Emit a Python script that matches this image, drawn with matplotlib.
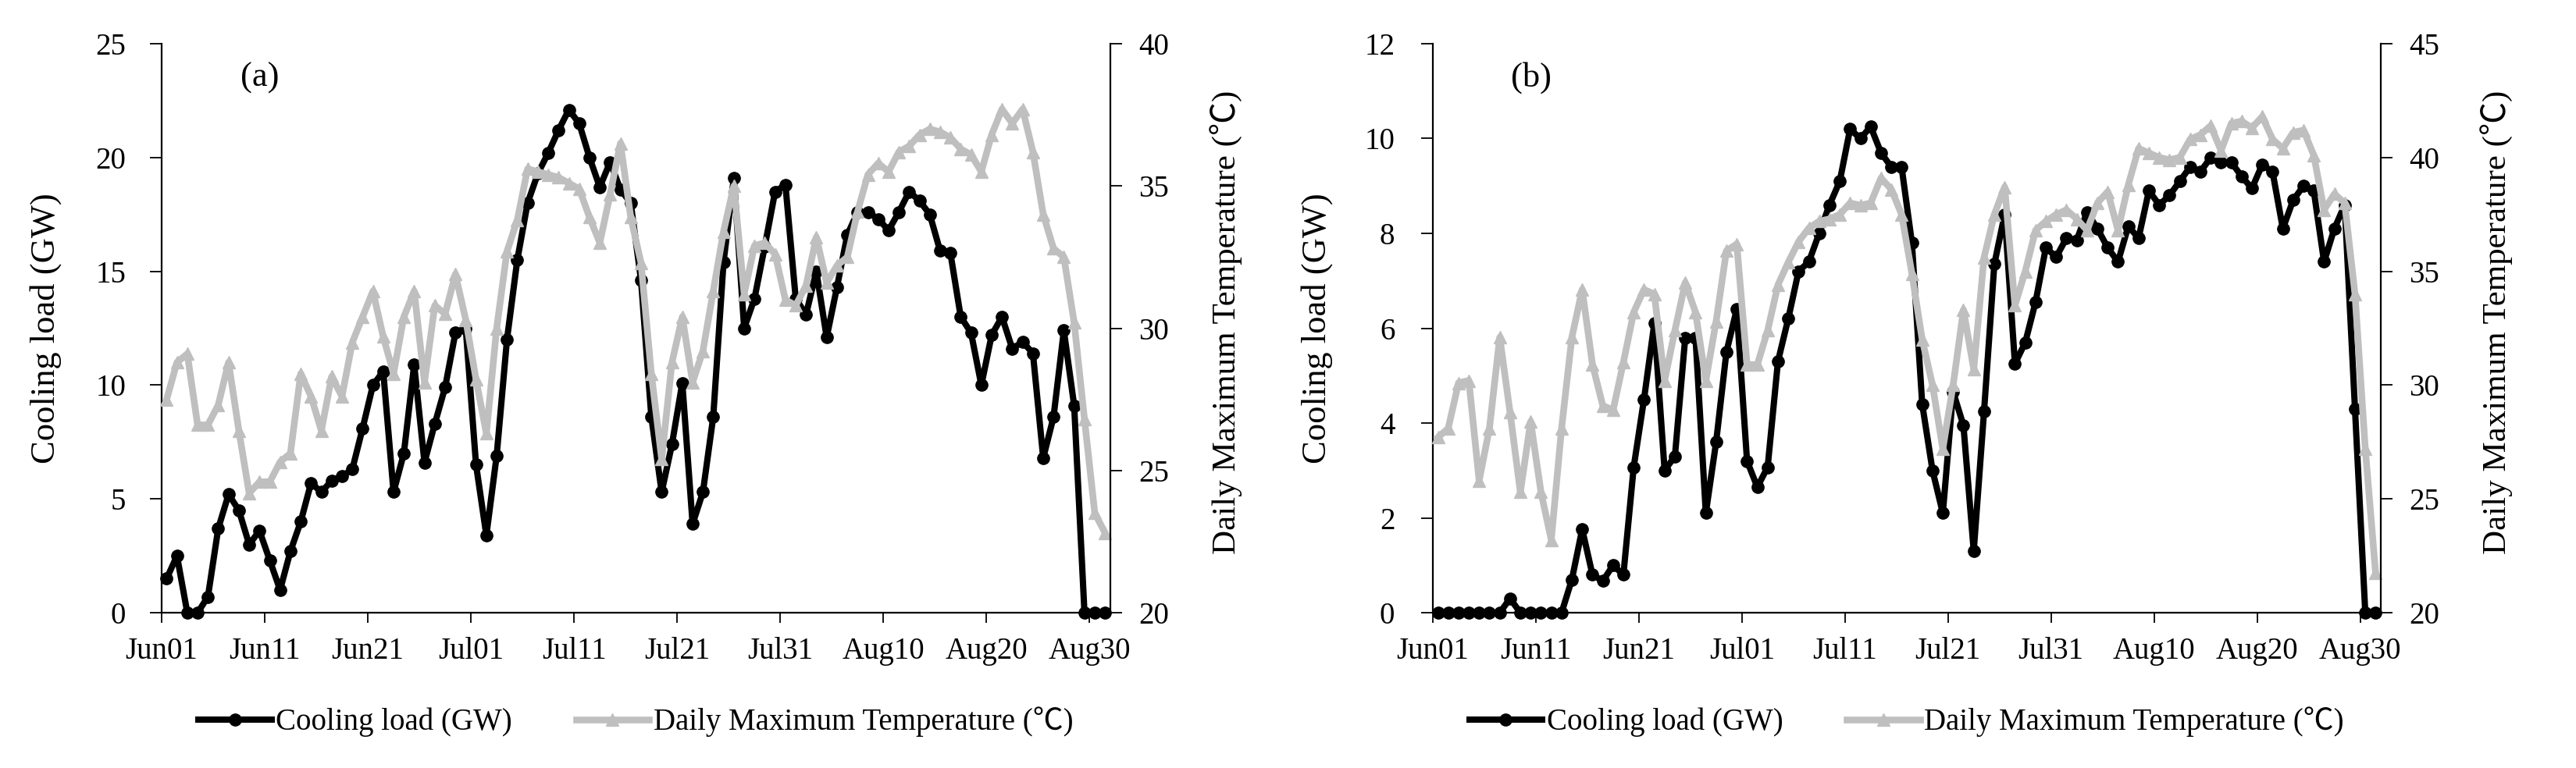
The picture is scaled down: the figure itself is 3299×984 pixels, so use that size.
import numpy as np
import matplotlib.pyplot as plt

plt.rcParams['font.family'] = ['Liberation Serif', 'Noto Sans CJK SC']

# --- DATA (daily values, Jun01 .. Aug31) ---
load_a = [1.5, 2.5, 0, 0, 0.7, 3.7, 5.2, 4.5, 3.0, 3.6,
          2.3, 1.0, 2.7, 4.0, 5.7, 5.3, 5.8, 6.0, 6.3, 8.1,
          10.0, 10.6, 5.3, 7.0, 10.9, 6.6, 8.3, 9.9, 12.3, 12.5,
          6.5, 3.4, 6.9, 12.0, 15.5, 18.0, 19.3, 20.2, 21.2, 22.1,
          21.5, 20.0, 18.7, 19.8, 18.6, 18.0, 14.6, 8.6, 5.3, 7.4,
          10.1, 3.9, 5.3, 8.6, 15.4, 19.1, 12.5, 13.8, 16.1, 18.5,
          18.8, 13.8, 13.1, 15.0, 12.1, 14.3, 16.6, 17.6, 17.6, 17.3,
          16.8, 17.6, 18.5, 18.1, 17.5, 15.9, 15.8, 13.0, 12.3, 10.0,
          12.2, 13.0, 11.6, 11.9, 11.4, 6.8, 8.6, 12.4, 9.1, 0,
          0, 0]
temp_a = [27.5, 28.8, 29.1, 26.6, 26.6, 27.3, 28.8, 26.4, 24.2, 24.6,
          24.6, 25.3, 25.6, 28.4, 27.6, 26.4, 28.3, 27.6, 29.5, 30.4,
          31.3, 29.7, 28.4, 30.4, 31.3, 28.1, 30.8, 30.5, 31.9, 30.3,
          28.2, 26.3, 30.0, 32.7, 33.8, 35.6, 35.5, 35.4, 35.3, 35.1,
          34.9, 33.9, 33.0, 34.7, 36.5, 33.9, 32.3, 28.4, 25.4, 28.8,
          30.4, 28.1, 29.2, 31.3, 33.4, 35.0, 31.2, 32.9, 33.0, 32.6,
          31.0, 30.8, 31.5, 33.2, 31.6, 32.2, 32.5, 34.1, 35.4, 35.8,
          35.5, 36.2, 36.4, 36.8, 37.0, 36.9, 36.7, 36.3, 36.1, 35.5,
          36.8, 37.7, 37.2, 37.7, 36.2, 34.0, 32.8, 32.5, 30.2, 26.8,
          23.5, 22.8]

load_b = [0, 0, 0, 0, 0, 0, 0, 0.3, 0, 0,
          0, 0, 0, 0.7, 1.76, 0.8, 0.67, 1.0, 0.8, 3.07,
          4.5, 6.1, 3.0, 3.3, 5.8, 5.8, 2.1, 3.6, 5.5, 6.4,
          3.2, 2.65, 3.07, 5.3, 6.2, 7.2, 7.4, 8.0, 8.6, 9.1,
          10.2, 10.0, 10.25, 9.7, 9.4, 9.4, 7.8, 4.4, 3.0, 2.1,
          4.66, 3.95, 1.3, 4.24, 7.35, 8.4, 5.25, 5.7, 6.55, 7.7,
          7.5, 7.9, 7.86, 8.45, 8.1, 7.7, 7.4, 8.15, 7.9, 8.9,
          8.6, 8.8, 9.1, 9.4, 9.3, 9.6, 9.5, 9.5, 9.2, 8.95,
          9.45, 9.3, 8.1, 8.7, 9.0, 8.9, 7.4, 8.1, 8.6, 4.3,
          0, 0]
temp_b = [27.7, 28.1, 30.1, 30.2, 25.8, 28.1, 32.1, 28.8, 25.3, 28.4,
          25.3, 23.2, 28.1, 32.1, 34.2, 30.9, 29.1, 28.9, 31.0, 33.2,
          34.2, 34.0, 30.2, 32.4, 34.5, 33.2, 30.2, 32.8, 35.9, 36.2,
          30.9, 30.9, 32.4, 34.4, 35.4, 36.3, 36.9, 37.2, 37.3, 37.5,
          38.0, 37.9, 38.0, 39.1, 38.6, 37.5, 34.9, 32.0, 30.0, 27.2,
          30.0, 33.3, 30.7, 35.6, 37.5, 38.7, 33.5, 35.0, 36.8, 37.2,
          37.5, 37.7, 37.3, 36.8, 38.0, 38.5, 36.8, 38.8, 40.4, 40.2,
          40.0, 39.9, 40.0, 40.8, 41.0, 41.4, 40.3, 41.5, 41.6, 41.3,
          41.8, 40.8, 40.4, 41.1, 41.2, 40.1, 37.7, 38.4, 38.0, 34.0,
          27.2, 21.75]

tick_labels = ['Jun01', 'Jun11', 'Jun21', 'Jul01', 'Jul11',
               'Jul21', 'Jul31', 'Aug10', 'Aug20', 'Aug30']

GREY = '#BFBFBF'
FS = 28

fig = plt.figure(figsize=(32.99, 9.84), dpi=100)


def draw_panel(rect, load, temp, load_ticks, temp_ticks, tag, left_pad):
    ax = fig.add_axes(rect)
    ax2 = ax.twinx()
    days = np.arange(len(load))

    l1, = ax.plot(days, load, color='black', lw=5.8, marker='o', ms=11,
                  clip_on=False, label='Cooling load (GW)')
    l2, = ax2.plot(days, temp, color=GREY, lw=6.2, marker='^', ms=11,
                   clip_on=False, label='Daily Maximum Temperature (℃)')

    ax.set_xlim(-0.5, len(load) - 0.5)
    ax.set_xticks(np.arange(len(tick_labels)) * 10 - 0.5)
    ax.set_xticklabels(tick_labels)
    ax.set_ylim(load_ticks[0], load_ticks[-1])
    ax.set_yticks(load_ticks)
    ax2.set_ylim(temp_ticks[0], temp_ticks[-1])
    ax2.set_yticks(temp_ticks)

    for a in (ax, ax2):
        a.spines['top'].set_visible(False)
        for s in a.spines.values():
            s.set_linewidth(1.6)
    ax.spines['right'].set_visible(False)
    ax2.spines['left'].set_visible(False)
    ax2.spines['bottom'].set_visible(False)

    ax.tick_params(axis='x', direction='out', length=9, width=1.3,
                   labelsize=FS, pad=13)
    ax.tick_params(axis='y', direction='out', length=11, width=1.3,
                   labelsize=FS, pad=left_pad)
    ax2.tick_params(axis='y', direction='out', length=11, width=1.3,
                    labelsize=FS, pad=15)

    ax.set_ylabel('Cooling load (GW)', fontsize=32, va='center')
    ax.yaxis.set_label_coords(-0.122, 0.5)
    ax2.set_ylabel('Daily Maximum Temperature (℃)', fontsize=31,
                   va='center', rotation=90)
    ax2.yaxis.set_label_coords(1.122, 0.51)

    ax.text(0.104, 0.94, tag, transform=ax.transAxes, ha='center',
            va='center', fontsize=32)

    ax2.legend([l1, l2], [l1.get_label(), l2.get_label()], loc='center',
               bbox_to_anchor=(0.5, -0.192), ncol=2, frameon=False,
               fontsize=FS, handlelength=2.4, handletextpad=0.15,
               columnspacing=2.1, numpoints=1)


draw_panel([0.0627, 0.2022, 0.3683, 0.7409], load_a, temp_a,
           [0, 5, 10, 15, 20, 25], [20, 25, 30, 35, 40], '(a)', 22)
draw_panel([0.5562, 0.2022, 0.3680, 0.7409], load_b, temp_b,
           [0, 2, 4, 6, 8, 10, 12], [20, 25, 30, 35, 40, 45], '(b)', 24)

fig.savefig('out.png', dpi=100)
